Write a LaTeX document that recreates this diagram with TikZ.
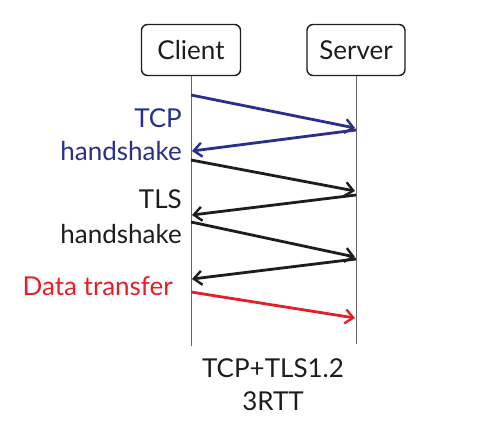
\documentclass[tikz,border=0pt]{standalone}
\usepackage{fontspec}
\setmainfont{Lato}
\usetikzlibrary{arrows.meta}
\definecolor{tcpblue}{RGB}{40,48,140}
\definecolor{dred}{RGB}{232,30,38}
\definecolor{dblack}{RGB}{30,28,28}
\begin{document}
\begin{tikzpicture}[x=1pt,y=-1pt,
  actor/.style={draw=dblack,line width=1.4pt,rounded corners=6pt,minimum height=51pt,inner sep=0pt,font=\fontsize{26}{28}\selectfont,text=dblack},
  life/.style={draw=black!60,line width=1pt},
  msg/.style={line width=2.8pt,-{Straight Barb[length=8pt,width=14pt,line width=2.4pt]}},
  lbl/.style={anchor=base east,font=\fontsize{26}{28}\selectfont,inner sep=0pt},
  foot/.style={anchor=base,font=\fontsize{26}{28}\selectfont,inner sep=0pt,text=dblack}]
\useasboundingbox (0,0) rectangle (486,441);
\node[actor,minimum width=99pt] (client) at (191,50) {Client};
\node[actor,minimum width=98pt] (server) at (356,50) {Server};
\coordinate (cend) at (191,346);
\coordinate (send) at (356,344);
\draw[life] (client.south) -- (cend);
\draw[life] (server.south) -- (send);
% message endpoints
\coordinate (c1) at (191,95);  \coordinate (s1) at (355,128);
\coordinate (s2) at (356,130); \coordinate (c2) at (192,151);
\coordinate (c3) at (191,160); \coordinate (s3) at (355,191);
\coordinate (s4) at (356,195); \coordinate (c4) at (192,215);
\coordinate (c5) at (191,222); \coordinate (s5) at (355,257);
\coordinate (s6) at (356,259); \coordinate (c6) at (192,279);
\coordinate (c7) at (191,292); \coordinate (s7) at (355,318);
\draw[msg,tcpblue] (c1) -- (s1);
\draw[msg,tcpblue] (s2) -- (c2);
\draw[msg,dblack] (c3) -- (s3);
\draw[msg,dblack] (s4) -- (c4);
\draw[msg,dblack] (c5) -- (s5);
\draw[msg,dblack] (s6) -- (c6);
\draw[msg,dred] (c7) -- (s7);
% labels
\node[lbl,text=tcpblue] (tcp) at (182,127) {TCP};
\node[lbl,text=tcpblue] (tcph) at (182,160) {handshake};
\node[lbl,text=dblack] (tls) at (182,208) {TLS};
\node[lbl,text=dblack] (tlsh) at (182,243) {handshake};
\node[lbl,text=dred] (data) at (173,295) {Data transfer};
\node[foot] (f1) at (273,377) {TCP+TLS1.2};
\node[foot] (f2) at (273,410) {3RTT};
\end{tikzpicture}
\end{document}
